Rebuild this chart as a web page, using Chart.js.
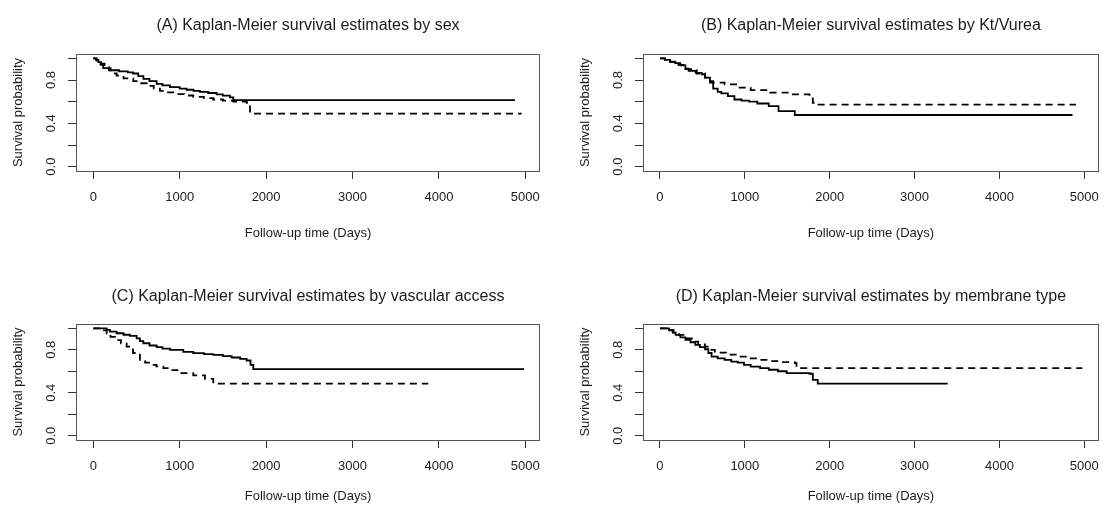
<!DOCTYPE html>
<html><head><meta charset="utf-8">
<script src="https://cdn.jsdelivr.net/npm/chart.js@4/dist/chart.umd.min.js"></script>
<style>
html,body{margin:0;padding:0;background:#fff;width:1109px;height:506px;overflow:hidden;}
canvas{position:absolute;display:block;}
</style></head><body>
<canvas id="cA" width="554" height="253" style="left:0;top:0"></canvas>
<canvas id="cB" width="555" height="253" style="left:554px;top:0"></canvas>
<canvas id="cC" width="554" height="253" style="left:0;top:253px"></canvas>
<canvas id="cD" width="555" height="253" style="left:554px;top:253px"></canvas>
<script>
// ---- tick definitions ----
const xTicks = [0, 1000, 2000, 3000, 4000, 5000];
const yTicks = [0, 0.2, 0.4, 0.6, 0.8, 1.0];
const yTickLabels = ['0.0', '', '0.4', '', '0.8', ''];

// ---- titles ----
const titles = [
  '(A) Kaplan-Meier survival estimates by sex',
  '(B) Kaplan-Meier survival estimates by Kt/Vurea',
  '(C) Kaplan-Meier survival estimates by vascular access',
  '(D) Kaplan-Meier survival estimates by membrane type'
];
const xAxisTitle = 'Follow-up time (Days)';
const yAxisTitle = 'Survival probability';

// ---- (A) by sex ----
const sexSolidTime = [0, 30, 60, 90, 115, 200, 300, 400, 460, 520, 580, 650, 733, 800, 888, 1000, 1080, 1160, 1235, 1330, 1428, 1500, 1582, 1620, 4880];
const sexSolidSurv = [1.0, 0.985, 0.965, 0.94, 0.91, 0.89, 0.88, 0.87, 0.86, 0.835, 0.81, 0.79, 0.765, 0.75, 0.735, 0.72, 0.71, 0.70, 0.69, 0.68, 0.667, 0.655, 0.64, 0.614, 0.614];
const sexDashTime = [0, 40, 80, 130, 180, 230, 270, 350, 463, 540, 618, 700, 772, 850, 926, 1050, 1157, 1280, 1388, 1500, 1620, 1775, 1814, 4958];
const sexDashSurv = [1.0, 0.98, 0.95, 0.92, 0.89, 0.86, 0.84, 0.815, 0.79, 0.77, 0.745, 0.72, 0.70, 0.685, 0.67, 0.657, 0.645, 0.632, 0.62, 0.61, 0.60, 0.59, 0.49, 0.49];

// ---- (B) by Kt/Vurea ----
const ktvSolidTime = [0, 60, 120, 180, 240, 300, 338, 420, 492, 531, 589, 627, 680, 723, 800, 877, 960, 1051, 1147, 1282, 1397, 1589, 4861];
const ktvSolidSurv = [1.0, 0.985, 0.97, 0.955, 0.935, 0.905, 0.884, 0.865, 0.853, 0.822, 0.776, 0.72, 0.69, 0.676, 0.651, 0.62, 0.61, 0.60, 0.583, 0.558, 0.512, 0.477, 0.477];
const ktvDashTime = [0, 60, 120, 200, 300, 434, 531, 580, 627, 762, 916, 1069, 1300, 1531, 1762, 1801, 1850, 4900];
const ktvDashSurv = [1.0, 0.985, 0.965, 0.94, 0.90, 0.86, 0.822, 0.79, 0.776, 0.76, 0.729, 0.707, 0.683, 0.667, 0.651, 0.59, 0.572, 0.572];

// ---- (C) by vascular access ----
const vaSolidTime = [0, 155, 193, 270, 350, 425, 502, 540, 579, 650, 733, 800, 888, 1042, 1157, 1280, 1389, 1500, 1601, 1700, 1775, 1820, 1852, 4985];
const vaSolidSurv = [1.0, 0.985, 0.969, 0.954, 0.94, 0.929, 0.907, 0.88, 0.861, 0.84, 0.824, 0.81, 0.80, 0.78, 0.768, 0.76, 0.753, 0.74, 0.728, 0.715, 0.70, 0.66, 0.62, 0.62];
const vaDashTime = [0, 97, 155, 200, 251, 320, 386, 460, 540, 600, 656, 730, 810, 900, 1003, 1157, 1293, 1389, 3877];
const vaDashSurv = [1.0, 0.98, 0.954, 0.92, 0.89, 0.86, 0.83, 0.77, 0.706, 0.68, 0.66, 0.645, 0.63, 0.61, 0.583, 0.561, 0.53, 0.484, 0.484];

// ---- (D) by membrane type ----
const memSolidTime = [0, 107, 150, 185, 240, 300, 360, 416, 470, 531, 570, 608, 680, 762, 840, 916, 990, 1069, 1180, 1282, 1390, 1493, 1762, 1801, 1859, 3390];
const memSolidSurv = [1.0, 0.98, 0.96, 0.938, 0.915, 0.892, 0.87, 0.845, 0.825, 0.805, 0.77, 0.737, 0.72, 0.706, 0.69, 0.68, 0.66, 0.644, 0.63, 0.614, 0.60, 0.583, 0.577, 0.52, 0.484, 0.484];
const memDashTime = [0, 107, 160, 223, 300, 376, 450, 531, 590, 647, 780, 916, 1030, 1147, 1280, 1416, 1589, 1609, 4977];
const memDashSurv = [1.0, 0.984, 0.96, 0.938, 0.905, 0.876, 0.85, 0.83, 0.80, 0.774, 0.755, 0.737, 0.72, 0.706, 0.695, 0.685, 0.675, 0.63, 0.63];

// ---- layout (page coordinates) ----
const FONT = "'Liberation Sans', Arial, sans-serif";
const TXT = '#1c1c1c';

function pts(t, s) { return t.map((v, i) => ({ x: v, y: s[i] })); }

const rPlugin = {
  id: 'rstyle',
  afterDraw(chart) {
    const { ctx, chartArea: a } = chart;
    const o = chart.options.plugins.rstyle;
    ctx.save();
    ctx.strokeStyle = '#555';
    ctx.lineWidth = 1;
    ctx.strokeRect(Math.round(a.left) + 0.5, Math.round(a.top) + 0.5,
      Math.round(a.right - a.left) - 1, Math.round(a.bottom - a.top));
    ctx.fillStyle = TXT;
    ctx.font = '16px ' + FONT;
    ctx.textAlign = 'center';
    ctx.textBaseline = 'middle';
    ctx.fillText(o.title, (a.left + a.right) / 2, o.titleY);
    ctx.restore();
  }
};

function panel(id, canvasPos, box, titleY, xTitleY, title, solidT, solidS, dashT, dashS) {
  const W = canvasPos.w, H = canvasPos.h;
  const l = box.l - canvasPos.x, r = box.r - canvasPos.x;
  const t = box.t - canvasPos.y, b = box.b - canvasPos.y;
  const yw = 76;
  const padLeft = l - yw;
  const lh = 13 * 1.2;
  const xh = H - b;
  const xTitlePadBottom = H - (xTitleY - canvasPos.y) - lh / 2;
  const yTitleCenter = l - 58;
  const yTitlePadTop = yTitleCenter - padLeft - lh / 2;
  const xLabelPad = 197 - 171 - 8 - lh / 2;
  new Chart(document.getElementById(id), {
    type: 'line',
    data: {
      datasets: [
        { data: pts(solidT, solidS), borderColor: '#000', borderWidth: 1.8, stepped: true, pointRadius: 0, fill: false },
        { data: pts(dashT, dashS), borderColor: '#000', borderWidth: 1.8, borderDash: [7, 5], stepped: true, pointRadius: 0, fill: false }
      ]
    },
    options: {
      responsive: false, animation: false, devicePixelRatio: 1,
      layout: { padding: { left: padLeft, right: W - r, top: t, bottom: 0 } },
      plugins: { legend: { display: false }, tooltip: { enabled: false }, title: { display: false },
        rstyle: { title: title, titleY: titleY - canvasPos.y } },
      scales: {
        x: {
          type: 'linear', min: -200, max: 5170,
          afterBuildTicks: s => { s.ticks = xTicks.map(v => ({ value: v })); },
          afterFit: s => { s.height = xh; },
          grid: { drawOnChartArea: false, drawTicks: true, tickLength: 8, tickColor: '#333', tickWidth: 1 },
          border: { display: false },
          ticks: { autoSkip: false, maxRotation: 0, minRotation: 0, padding: xLabelPad, color: TXT,
            font: { family: FONT, size: 13 }, callback: v => String(v) },
          title: { display: true, text: xAxisTitle, color: TXT, font: { family: FONT, size: 13 },
            padding: { top: 0, bottom: xTitlePadBottom } }
        },
        y: {
          type: 'linear', min: -0.04, max: 1.04,
          afterBuildTicks: s => { s.ticks = yTicks.map(v => ({ value: v })); },
          afterFit: s => { s.width = yw; },
          grid: { drawOnChartArea: false, drawTicks: true, tickLength: 8, tickColor: '#333', tickWidth: 1 },
          border: { display: false },
          ticks: { autoSkip: false, minRotation: 90, maxRotation: 90, crossAlign: 'center', padding: 8, color: TXT,
            font: { family: FONT, size: 13 }, callback: (v, i) => yTickLabels[i] },
          title: { display: true, text: yAxisTitle, color: TXT, font: { family: FONT, size: 13 },
            padding: { top: yTitlePadTop, bottom: 0 } }
        }
      }
    },
    plugins: [rPlugin]
  });
}

panel('cA', { x: 0, y: 0, w: 554, h: 253 }, { l: 76, r: 540, t: 54, b: 171 }, 26, 233, titles[0],
  sexSolidTime, sexSolidSurv, sexDashTime, sexDashSurv);
panel('cB', { x: 554, y: 0, w: 555, h: 253 }, { l: 643, r: 1108, t: 54, b: 171 }, 26, 233, titles[1],
  ktvSolidTime, ktvSolidSurv, ktvDashTime, ktvDashSurv);
panel('cC', { x: 0, y: 253, w: 554, h: 253 }, { l: 76, r: 540, t: 324, b: 440 }, 297, 496, titles[2],
  vaSolidTime, vaSolidSurv, vaDashTime, vaDashSurv);
panel('cD', { x: 554, y: 253, w: 555, h: 253 }, { l: 643, r: 1108, t: 324, b: 440 }, 297, 496, titles[3],
  memSolidTime, memSolidSurv, memDashTime, memDashSurv);
</script>
</body></html>
